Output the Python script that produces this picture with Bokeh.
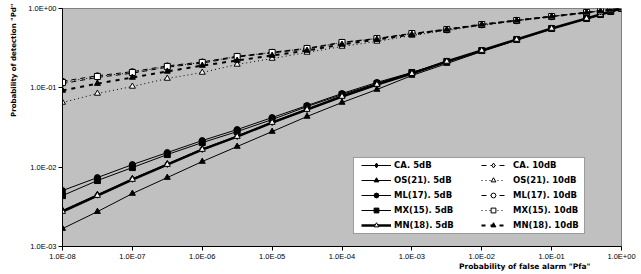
from bokeh.plotting import figure
from bokeh.models import (Range1d, FixedTicker, CustomJSTickFormatter, Legend, LegendItem,
                          BoxAnnotation, Title)
from bokeh.embed import file_html
from bokeh.resources import INLINE

# ---- data ----
pfa = [1e-8, 3.16e-8, 1e-7, 3.16e-7, 1e-6, 3.16e-6, 1e-5, 3.16e-5, 1e-4, 3.16e-4,
       1e-3, 3.16e-3, 1e-2, 3.16e-2, 0.1, 0.316, 0.5, 0.7, 1.0]

ca_5 = [2.85e-3, 4.5e-3, 7.15e-3, 1.1e-2, 1.7e-2, 2.47e-2, 3.7e-2, 5.4e-2, 7.85e-2, 0.110,
        0.151, 0.215, 0.295, 0.407, 0.560, 0.748, 0.84, 0.916, 1.0]
os_5 = [1.68e-3, 2.75e-3, 4.65e-3, 7.39e-3, 1.177e-2, 1.82e-2, 2.81e-2, 4.35e-2, 6.53e-2, 9.52e-2,
        0.143, 0.202, 0.287, 0.400, 0.552, 0.742, 0.836, 0.914, 1.0]
ml_5 = [5.07e-3, 7.39e-3, 1.078e-2, 1.528e-2, 2.165e-2, 2.98e-2, 4.22e-2, 5.98e-2, 8.48e-2, 0.117,
        0.156, 0.215, 0.295, 0.407, 0.560, 0.748, 0.84, 0.916, 1.0]
mx_5 = [4.38e-3, 6.78e-3, 9.88e-3, 1.442e-2, 2.04e-2, 2.81e-2, 3.98e-2, 5.81e-2, 8.23e-2, 0.113,
        0.156, 0.215, 0.295, 0.407, 0.560, 0.748, 0.84, 0.916, 1.0]
mn_5 = [2.75e-3, 4.38e-3, 6.98e-3, 1.078e-2, 1.667e-2, 2.43e-2, 3.65e-2, 5.32e-2, 7.77e-2, 0.110,
        0.151, 0.215, 0.295, 0.407, 0.560, 0.748, 0.84, 0.916, 1.0]

ca_10 = [0.113, 0.135, 0.153, 0.182, 0.205, 0.244, 0.275, 0.310, 0.370, 0.415,
         0.481, 0.540, 0.625, 0.703, 0.790, 0.888, 0.93, 0.97, 1.0]
os_10 = [0.0653, 0.0848, 0.104, 0.131, 0.156, 0.197, 0.234, 0.279, 0.332, 0.384,
         0.457, 0.528, 0.610, 0.706, 0.793, 0.890, 0.93, 0.97, 1.0]
ml_10 = [0.121, 0.142, 0.160, 0.189, 0.212, 0.250, 0.281, 0.316, 0.375, 0.420,
         0.486, 0.545, 0.630, 0.708, 0.795, 0.891, 0.93, 0.97, 1.0]
mx_10 = [0.117, 0.139, 0.156, 0.186, 0.209, 0.248, 0.279, 0.313, 0.373, 0.418,
         0.484, 0.543, 0.628, 0.706, 0.793, 0.890, 0.93, 0.97, 1.0]
mn_10 = [0.0925, 0.113, 0.135, 0.161, 0.191, 0.221, 0.255, 0.295, 0.352, 0.407,
         0.470, 0.543, 0.628, 0.706, 0.793, 0.890, 0.93, 0.97, 1.0]

x_ticks = [1e-8, 1e-7, 1e-6, 1e-5, 1e-4, 1e-3, 1e-2, 1e-1, 1.0]
y_ticks = [1e-3, 1e-2, 1e-1, 1.0]

labels_5 = ["CA. 5dB", "OS(21). 5dB", "ML(17). 5dB", "MX(15). 5dB", "MN(18). 5dB"]
labels_10 = ["CA. 10dB", "OS(21). 10dB", "ML(17). 10dB", "MX(15). 10dB", "MN(18). 10dB"]
x_title = 'Probability of false alarm "Pfa"'
y_title = 'Probability of detection "Pd"'

# ---- figure ----
p = figure(width=641, height=274, x_axis_type="log", y_axis_type="log",
           x_range=Range1d(1e-8, 1.0), y_range=Range1d(1e-3, 1.0),
           output_backend="svg", toolbar_location=None,
           min_border_left=61, min_border_right=20, min_border_top=8, min_border_bottom=28)
p.background_fill_color = "#C0C0C0"
p.border_fill_color = "white"
p.outline_line_color = "#808080"
p.outline_line_width = 1
p.grid.visible = False

fmt = CustomJSTickFormatter(code="""
const e = Math.round(Math.log10(tick));
const a = Math.abs(e);
return "1.0E" + (e < 0 ? "-" : "+") + (a < 10 ? "0" : "") + a;
""")
p.xaxis.ticker = FixedTicker(ticks=x_ticks)
p.yaxis.ticker = FixedTicker(ticks=y_ticks)
for ax in (p.xaxis[0], p.yaxis[0]):
    ax.formatter = fmt
    ax.axis_line_color = "black"
    ax.major_tick_line_color = "black"
    ax.minor_tick_line_color = None
    ax.major_tick_in = 0
    ax.major_tick_out = 4
    ax.major_label_standoff = 2
    ax.major_label_text_font = "Liberation Sans"
    ax.major_label_text_font_size = "7.5px"
    ax.major_label_text_color = "black"
p.xaxis[0].major_label_standoff = 1

# ---- series ----
def series(y, marker, fill, lw, dash, msize):
    r1 = p.line(pfa, y, line_color="black", line_width=lw, line_dash=dash)
    r2 = p.scatter(pfa, y, marker=marker, size=msize, fill_color=fill,
                   line_color="black", line_width=1)
    return [r1, r2]

r_ca5 = series(ca_5, "diamond", "black", 1, "solid", 7)
r_os5 = series(os_5, "triangle", "black", 1, "solid", 6)
r_ml5 = series(ml_5, "circle", "black", 1, "solid", 6)
r_mx5 = series(mx_5, "square", "black", 1, "solid", 6)
r_mn5 = series(mn_5, "triangle", "white", 2.5, "solid", 6)

r_ca10 = series(ca_10, "diamond", "white", 1, "5 4", 7)
r_os10 = series(os_10, "triangle", "white", 1, "1 3", 6)
r_ml10 = series(ml_10, "circle", "white", 1, "5 4", 6)
r_mx10 = series(mx_10, "square", "white", 1, "1 3", 6)
r_mn10 = series(mn_10, "triangle", "black", 2, "4 5", 6)

# ---- legend box and two legend columns ----
box = BoxAnnotation(left=291, right=522, bottom=13, top=89,
                    left_units="screen", right_units="screen",
                    top_units="screen", bottom_units="screen",
                    fill_color="white", fill_alpha=1.0,
                    line_color="black", line_width=1)
p.add_layout(box)

def make_legend(labels, rends, loc, gw, standoff):
    items = [LegendItem(label=l, renderers=r) for l, r in zip(labels, rends)]
    lg = Legend(items=items, location=loc, orientation="vertical",
                padding=0, margin=0, spacing=3, label_height=12, glyph_height=12,
                glyph_width=gw, label_standoff=standoff,
                background_fill_alpha=0, border_line_alpha=0,
                label_text_font="DejaVu Sans", label_text_font_style="bold",
                label_text_font_size="8.5px", label_text_color="black")
    p.add_layout(lg, "center")

make_legend(labels_5, [r_ca5, r_os5, r_ml5, r_mx5, r_mn5], (299, 15), 30, 3)
make_legend(labels_10, [r_ca10, r_os10, r_ml10, r_mx10, r_mn10], (419, 15), 24, 8)

# ---- axis titles ----
p.add_layout(Title(text=x_title, align="right", offset=31, standoff=-4, vertical_align="top",
                   text_font="DejaVu Sans", text_font_style="bold",
                   text_font_size="7.5px", text_color="black"), "below")
p.add_layout(Title(text=y_title, align="right", offset=-5, standoff=15,
                   text_font="DejaVu Sans", text_font_style="bold",
                   text_font_size="7px", text_color="black"), "left")

open("out.html", "w").write(file_html(p, INLINE))
